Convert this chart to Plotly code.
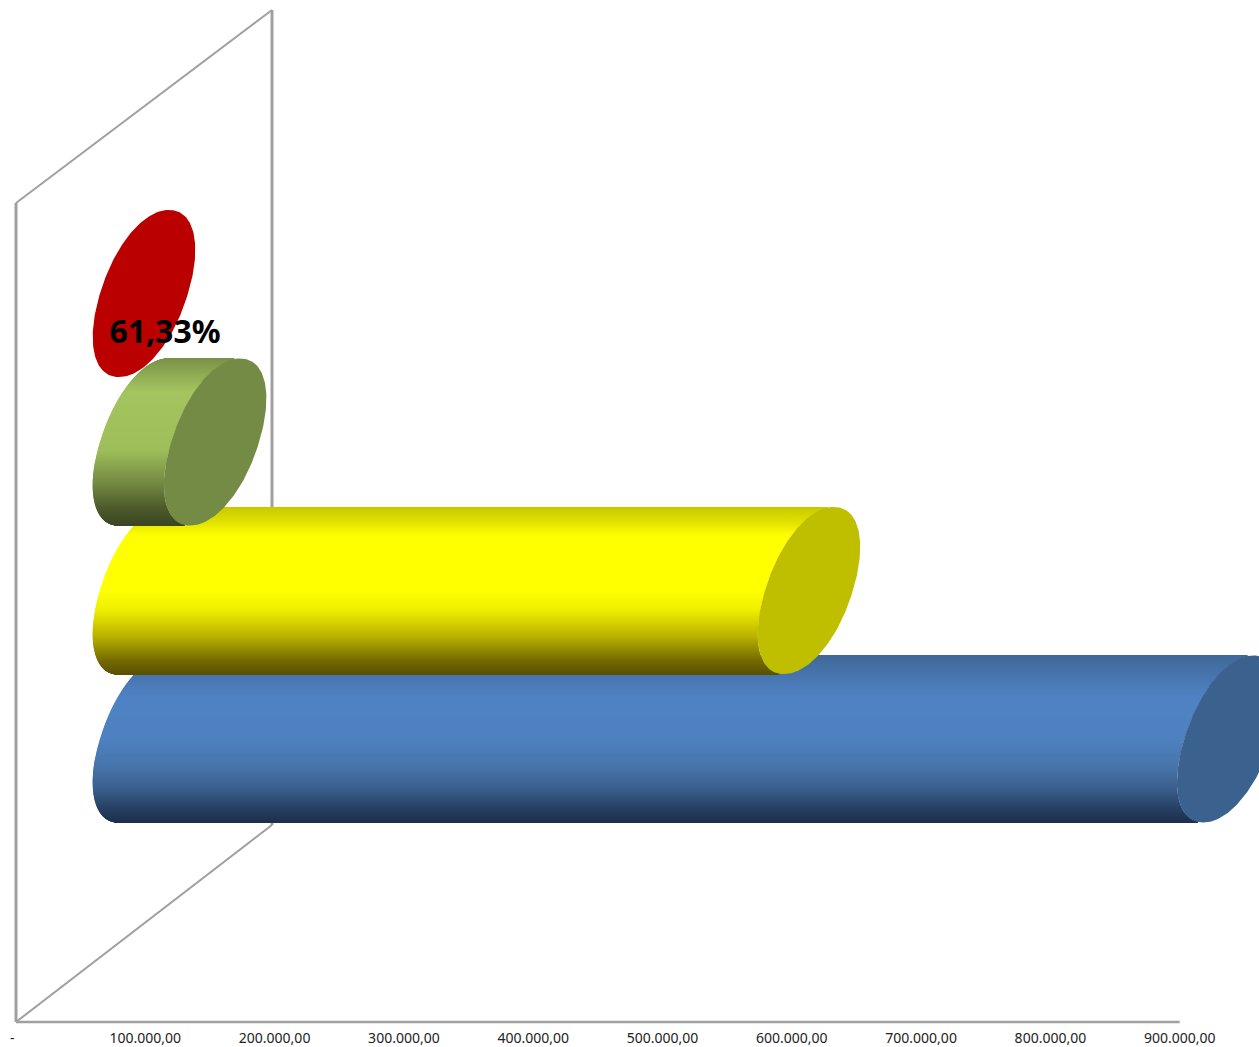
import numpy as np
import plotly.graph_objects as go

# ---- data ----
categories = ["Série 1", "Série 2", "Série 3", "Série 4"]   # bottom to top (draw order)
values = [838500, 514250, 55000, 0]
label_text = "61,33%"
tick_values = [0, 100000, 200000, 300000, 400000, 500000, 600000, 700000, 800000, 900000]
tick_labels = ["-  ", "100.000,00", "200.000,00", "300.000,00", "400.000,00",
               "500.000,00", "600.000,00", "700.000,00", "800.000,00", "900.000,00"]

# ---- styles ----
gradients = [
    [(0, "#3f6998"), (.12, "#4774ad"), (.25, "#4f82c4"), (.5, "#4f81c0"), (.65, "#4877ae"),
     (.8, "#3a5f8e"), (.92, "#263f63"), (1, "#1c2f4c")],
    [(0, "#c8c800"), (.08, "#dede00"), (.18, "#ffff00"), (.5, "#ffff00"), (.62, "#eeee00"),
     (.78, "#b8b000"), (.92, "#746a00"), (1, "#5a5000")],
    [(0, "#7a9048"), (.1, "#8fab53"), (.2, "#a4c45f"), (.55, "#9ebe5a"), (.75, "#738a42"),
     (.9, "#4c5a2a"), (1, "#3c4622")],
    [(0, "#bb0000"), (1, "#bb0000")],
]
cap_colors = ["#3b618f", "#bfbf00", "#748b46", "#bb0000"]
WALL = "#a0a0a0"

W, H, MB = 1259, 1047, 25
PX_X = 0.001293          # px per x unit
X0_PX = 16               # px of value 0
PX_Y = 148.5             # px per category step
Y0_PX = 739              # px of first category
DEPTH = (144 - 16) / PX_X   # 3D projection offset of bar bases
SHEAR = 25 / PX_X        # cap tilt: x offset of the top tangent point
HALF = 44 / PX_X         # cap half width across the tilt
B = 83.5 / PX_Y          # cap half height
P = 2.1                  # cap roundness (2 = true ellipse)

x_range = [-X0_PX / PX_X, (W - X0_PX) / PX_X]
y_range = [(Y0_PX - (H - MB)) / PX_Y, Y0_PX / PX_Y]


def hexrgb(c):
    return np.array([int(c[i:i + 2], 16) for i in (1, 3, 5)], float)


def grad_color(stops, t):
    ts = [s[0] for s in stops]
    cs = np.array([hexrgb(s[1]) for s in stops])
    rgb = [np.interp(t, ts, cs[:, i]) for i in range(3)]
    return "rgb(%d,%d,%d)" % tuple(int(round(v)) for v in rgb)


def paper(px, py):
    return px / W, 1 - py / (H - MB)


def half_width(Y):
    return HALF * (1 - np.abs(Y) ** P) ** (1 / P)


fig = go.Figure()

# cylinder bodies: horizontal gradient bands
n = 168
for k, (name, v, stops) in enumerate(zip(categories, values, gradients)):
    u = (np.arange(n) + 0.5) / n              # 0 top -> 1 bottom
    Y = 1 - 2 * u
    base = DEPTH + SHEAR * Y - half_width(Y)
    fig.add_trace(go.Bar(
        y=k + Y * B, x=[v] * n, base=base, orientation="h",
        width=2 * B / n * 1.25,
        marker=dict(color=[grad_color(stops, t) for t in u], line=dict(width=0)),
        name=name, showlegend=False, hoverinfo="skip"))

# cylinder end caps
Yc = np.sin(np.linspace(-np.pi / 2, np.pi / 2, 120))
for k, (name, v, col) in enumerate(zip(categories, values, cap_colors)):
    cap_x = np.concatenate([SHEAR * Yc + half_width(Yc), (SHEAR * Yc - half_width(Yc))[::-1]])
    cap_y = np.concatenate([Yc, Yc[::-1]])
    fig.add_trace(go.Scatter(
        x=DEPTH + v + cap_x, y=k + B * cap_y,
        mode="lines", fill="toself", fillcolor=col, line=dict(width=0, color=col),
        name=name, showlegend=False, hoverinfo="skip"))

# data label
fig.add_trace(go.Scatter(
    x=[(165 - X0_PX) / PX_X], y=[(Y0_PX - 334.5) / PX_Y], mode="text", text=[label_text],
    textfont=dict(family="Noto Sans", size=32, color="#000000", weight="bold"),
    textposition="middle center", showlegend=False, hoverinfo="skip"))

# back wall and floor frame
shapes = []
for (a, b) in [((16, 203), (16, 1022)), ((16, 203), (272, 10)), ((272, 10), (272, 825)),
               ((272, 825), (16, 1022))]:
    x0, y0 = paper(*a)
    x1, y1 = paper(*b)
    vertical = a[0] == b[0]
    shapes.append(dict(type="line", xref="paper", yref="paper", x0=x0, y0=y0, x1=x1, y1=y1,
                       line=dict(color=WALL, width=3 if vertical else 2), layer="below"))
shapes.append(dict(type="line", xref="x", yref="paper", x0=0, x1=900000, y0=0, y1=0,
                   line=dict(color=WALL, width=2.5), layer="below"))

fig.update_layout(
    width=W, height=H, margin=dict(l=0, r=0, t=0, b=MB, autoexpand=False),
    paper_bgcolor="#ffffff", plot_bgcolor="#ffffff",
    barmode="overlay", showlegend=False, shapes=shapes,
    xaxis=dict(range=x_range, tickmode="array", tickvals=tick_values, ticktext=tick_labels,
               automargin=False,
               showgrid=False, zeroline=False, showline=False,
               ticks="outside", ticklen=3, tickcolor="rgba(0,0,0,0)",
               tickfont=dict(family="Noto Sans", size=14, color="#222222")),
    yaxis=dict(range=y_range, visible=False, automargin=False),
)

fig.write_html("out.html", config={"displayModeBar": False},
               post_script="document.body.style.margin='0';document.body.style.overflow='hidden';")
